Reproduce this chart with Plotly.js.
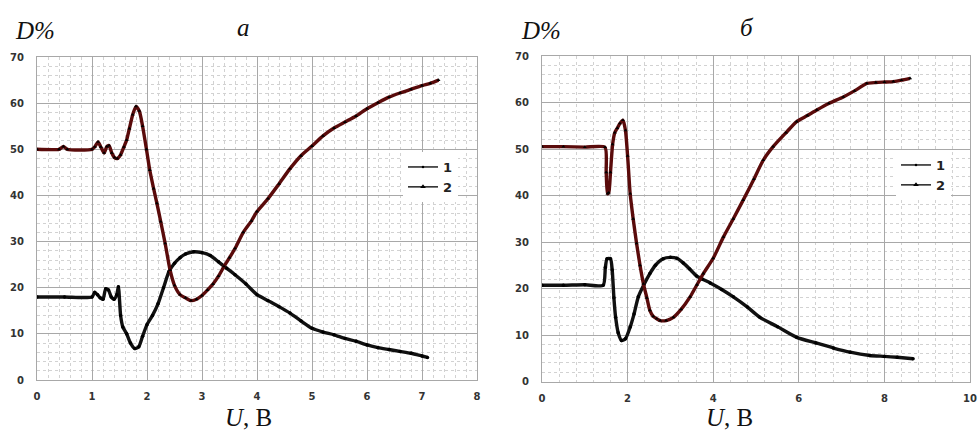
<!DOCTYPE html>
<html>
<head>
<meta charset="utf-8">
<script src="https://cdn.plot.ly/plotly-3.0.1.min.js"></script>
<style>html,body{margin:0;padding:0;background:#fff;}#chart{width:979px;height:434px;}</style>
</head>
<body>
<div id="chart"></div>
<script>
// Panel "а": curve 1 and curve 2
const a1U = [0, 0.5, 1.0, 1.05, 1.1, 1.15, 1.2, 1.25, 1.3, 1.35, 1.4, 1.45, 1.48, 1.52, 1.56, 1.63, 1.7, 1.78, 1.85, 1.92, 2.0, 2.1, 2.2, 2.3, 2.4, 2.5, 2.6, 2.7, 2.85, 3.0, 3.15, 3.3, 3.45, 3.6, 3.8, 4.0, 4.2, 4.4, 4.6, 4.8, 5.0, 5.2, 5.4, 5.6, 5.8, 6.0, 6.2, 6.4, 6.6, 6.8, 7.0, 7.1];
const a1D = [18, 18, 18, 19, 18.5, 17.8, 17.5, 19.8, 19.5, 18, 17.5, 18.5, 20.2, 14, 11.5, 10, 8, 6.8, 7.2, 9.5, 12, 14, 16.5, 20, 23.5, 25.3, 26.5, 27.3, 27.8, 27.6, 27, 25.6, 24.2, 22.8, 20.8, 18.5, 17.2, 15.9, 14.5, 12.8, 11.2, 10.4, 9.8, 9.0, 8.4, 7.6, 7.0, 6.6, 6.2, 5.8, 5.2, 4.9];
const a2U = [0, 0.4, 0.48, 0.55, 1.0, 1.05, 1.11, 1.16, 1.22, 1.27, 1.31, 1.36, 1.41, 1.46, 1.52, 1.58, 1.63, 1.68, 1.74, 1.8, 1.86, 1.92, 1.99, 2.05, 2.12, 2.18, 2.25, 2.33, 2.42, 2.5, 2.6, 2.7, 2.8, 2.9, 3.0, 3.1, 3.2, 3.3, 3.4, 3.5, 3.6, 3.75, 3.9, 4.0, 4.2, 4.4, 4.6, 4.8, 5.0, 5.2, 5.4, 5.6, 5.8, 6.0, 6.2, 6.4, 6.6, 6.8, 7.0, 7.15, 7.3];
const a2D = [50, 50, 50.6, 50, 50, 50.5, 51.6, 50.5, 49.2, 50.6, 50.8, 49.2, 48.2, 48.0, 48.8, 50.5, 52, 54.5, 57.5, 59.3, 58.3, 55, 50, 45.5, 41.5, 38.3, 34.3, 29.6, 23.8, 20.5, 18.5, 17.8, 17.2, 17.5, 18.3, 19.5, 20.8, 22.5, 24.6, 26.5, 28.5, 32, 34.5, 36.5, 39.3, 42.5, 45.8, 48.6, 50.7, 52.9, 54.6, 55.9, 57.2, 58.8, 60.1, 61.3, 62.2, 63.0, 63.8, 64.3, 65];
// Panel "б": curve 1 and curve 2
const b1U = [0, 0.5, 1.0, 1.43, 1.48, 1.52, 1.6, 1.64, 1.68, 1.72, 1.78, 1.86, 1.95, 2.06, 2.15, 2.25, 2.38, 2.52, 2.65, 2.83, 3.0, 3.15, 3.3, 3.45, 3.61, 3.75, 3.93, 4.2, 4.47, 4.8, 5.09, 5.5, 5.95, 6.4, 6.81, 7.2, 7.66, 8.0, 8.3, 8.67];
const b1D = [20.7, 20.7, 20.8, 20.7, 24.5, 26.4, 26.4, 24, 18, 13.8, 10.5, 8.8, 9.2, 11.7, 14.5, 18.2, 20.8, 23.2, 25, 26.4, 26.7, 26.5, 25.5, 24.2, 22.7, 22, 21.2, 19.8, 18.2, 16.0, 13.8, 11.8, 9.5, 8.3, 7.2, 6.3, 5.6, 5.4, 5.2, 4.9];
const b2U = [0, 0.5, 1.0, 1.47, 1.5, 1.53, 1.56, 1.6, 1.65, 1.7, 1.76, 1.82, 1.89, 1.95, 2.0, 2.06, 2.13, 2.21, 2.29, 2.37, 2.45, 2.52, 2.6, 2.68, 2.76, 2.9, 3.07, 3.25, 3.46, 3.62, 3.77, 4.0, 4.24, 4.47, 4.7, 4.95, 5.17, 5.4, 5.7, 5.95, 6.2, 6.42, 6.7, 7.04, 7.3, 7.59, 7.8, 8.0, 8.21, 8.4, 8.6];
const b2D = [50.5, 50.5, 50.4, 50.4, 45, 40.4, 40.6, 45, 51, 53.5, 54.5, 55.5, 56.2, 54, 48.5, 40.4, 35, 29.7, 25, 21, 18, 15.3, 14, 13.5, 13.1, 13.1, 13.8, 15.5, 18.2, 20.8, 23.2, 26.5, 31.1, 35, 39, 43.5, 47.6, 50.5, 53.5, 55.9, 57.2, 58.4, 59.8, 61.2, 62.5, 64.1, 64.3, 64.4, 64.5, 64.8, 65.2];
const seriesNames = ['1', '2'];
const panelLabels = ['а', 'б'];
const yLabel = '<i>D%</i>';
const xLabel = '<i>U</i>, В';

const c1 = '#111111', c2 = '#5a0b0b';
function curve(x, y, xa, ya, col, sym) {
  return {x: x, y: y, xaxis: xa, yaxis: ya, type: 'scatter', mode: 'lines+markers', showlegend: false,
    line: {color: col, width: 3.4, shape: 'spline', smoothing: 0.6},
    marker: {color: '#000', size: 3.5, symbol: sym}, hoverinfo: 'skip'};
}
function legItem(name, sym, size, leg, xa, ya) {
  return {x: [null], y: [null], xaxis: xa, yaxis: ya, type: 'scatter', mode: 'lines+markers', name: name,
    legend: leg, line: {color: '#222', width: 1.5}, marker: {color: '#000', size: size, symbol: sym}};
}
const data = [
  curve(a1U, a1D, 'x', 'y', c1, 'circle'),
  curve(a2U, a2D, 'x', 'y', c2, 'triangle-up'),
  curve(b1U, b1D, 'x2', 'y2', c1, 'circle'),
  curve(b2U, b2D, 'x2', 'y2', c2, 'triangle-up'),
  legItem(seriesNames[0], 'circle', 2.5, 'legend', 'x', 'y'),
  legItem(seriesNames[1], 'triangle-up', 5, 'legend', 'x', 'y'),
  legItem(seriesNames[0], 'circle', 2.5, 'legend2', 'x2', 'y2'),
  legItem(seriesNames[1], 'triangle-up', 5, 'legend2', 'x2', 'y2')
];
const tickFont = {family: 'DejaVu Sans', size: 10, color: '#333', weight: 700};
function xax(domain, range, dtick, minor) {
  return {domain: domain, range: range, dtick: dtick, tick0: 0, showgrid: true, gridcolor: '#a8a8a8', gridwidth: 1,
    minor: {dtick: minor, tick0: 0, showgrid: true, gridcolor: '#d2d2d2', griddash: 'dot', gridwidth: 1},
    zeroline: false, showline: true, mirror: true, linecolor: '#a8a8a8', ticks: '', ticklabelstandoff: 7,
    tickfont: tickFont, fixedrange: true};
}
function yax(domain, anchor) {
  return {domain: domain, anchor: anchor, range: [0, 70], dtick: 10, tick0: 0, showgrid: true, gridcolor: '#a8a8a8',
    minor: {dtick: 2, tick0: 0, showgrid: true, gridcolor: '#d2d2d2', griddash: 'dot', gridwidth: 1},
    zeroline: false, showline: true, mirror: true, linecolor: '#a8a8a8', ticks: '', ticklabelstandoff: 10,
    tickfont: tickFont, fixedrange: true};
}
const W = 979, H = 434;
const serif = {family: 'Liberation Serif', size: 25, color: '#111'};
function ann(text, px, py) {
  return {text: text, xref: 'paper', yref: 'paper', x: px / W, y: 1 - py / H, xanchor: 'center', yanchor: 'middle',
    showarrow: false, font: serif};
}
const layout = {
  width: W, height: H, margin: {l: 0, r: 0, t: 0, b: 0}, paper_bgcolor: '#fff', plot_bgcolor: '#fff',
  xaxis: Object.assign(xax([37 / W, 477 / W], [0, 8], 1, 0.2), {anchor: 'y'}),
  yaxis: yax([(H - 380) / H, (H - 57) / H], 'x'),
  xaxis2: Object.assign(xax([542 / W, 970 / W], [0, 10], 2, 0.4), {anchor: 'y2'}),
  yaxis2: yax([(H - 381.5) / H, (H - 56) / H], 'x2'),
  legend: {x: 403 / W, y: 1 - 152 / H, xanchor: 'left', yanchor: 'top', bgcolor: '#fff', borderwidth: 0,
    font: {family: 'DejaVu Sans', size: 13, color: '#222', weight: 700}, itemclick: false},
  legend2: {x: 896 / W, y: 1 - 150 / H, xanchor: 'left', yanchor: 'top', bgcolor: '#fff', borderwidth: 0,
    font: {family: 'DejaVu Sans', size: 13, color: '#222', weight: 700}, itemclick: false},
  annotations: [
    ann(yLabel, 35, 30), ann(yLabel, 541, 30),
    ann('<i>' + panelLabels[0] + '</i>', 243, 28), ann('<i>' + panelLabels[1] + '</i>', 747, 27),
    ann(xLabel, 248, 417), ann(xLabel, 729, 417)
  ]
};
Plotly.newPlot('chart', data, layout, {staticPlot: true});
</script>
</body>
</html>
